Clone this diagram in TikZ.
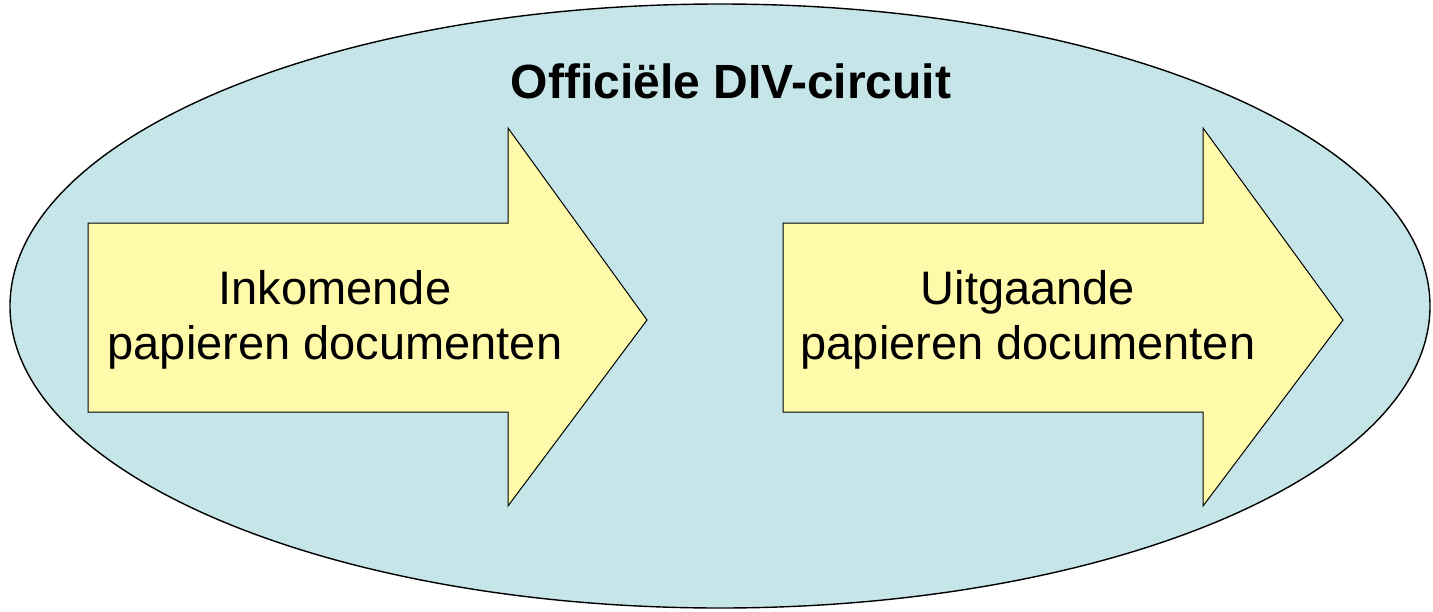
\documentclass[tikz,border=0pt]{standalone}
\usepackage{fontspec}
\setmainfont{Liberation Sans}
\definecolor{circuitfill}{HTML}{C6E5E9}
\definecolor{arrowfill}{HTML}{FFFAAA}
\begin{document}
\begin{tikzpicture}[x=1pt,y=-1pt,
  circuit/.style={draw=black,line width=1.4pt,fill=circuitfill},
  bigarrow/.style={draw=black,line width=1pt,fill=arrowfill,line join=miter},
  arrowtext/.style={align=center,inner sep=0pt,font=\fontsize{47}{55}\selectfont},
  titletext/.style={anchor=base,inner sep=0pt,font=\fontsize{48}{56}\selectfont\bfseries}]
  \useasboundingbox (0,0) rectangle (1433,611);
  % outer ellipse
  \draw[circuit] (720,306) ellipse [x radius=710, y radius=302];
  \node[titletext] (title) at (731,98) {Officiële DIV-circuit};
  % incoming arrow
  \draw[bigarrow] (88,223) -- (508,223) -- (508,128) -- (647,320)
     -- (508,506) -- (508,412) -- (88,412) -- cycle;
  \node[arrowtext] (incoming) at (335,320) {Inkomende\\papieren documenten};
  % outgoing arrow
  \draw[bigarrow] (783,223) -- (1203,223) -- (1203,128) -- (1343,320)
     -- (1203,506) -- (1203,412) -- (783,412) -- cycle;
  \node[arrowtext] (outgoing) at (1028,320) {Uitgaande\\papieren documenten};
\end{tikzpicture}
\end{document}
